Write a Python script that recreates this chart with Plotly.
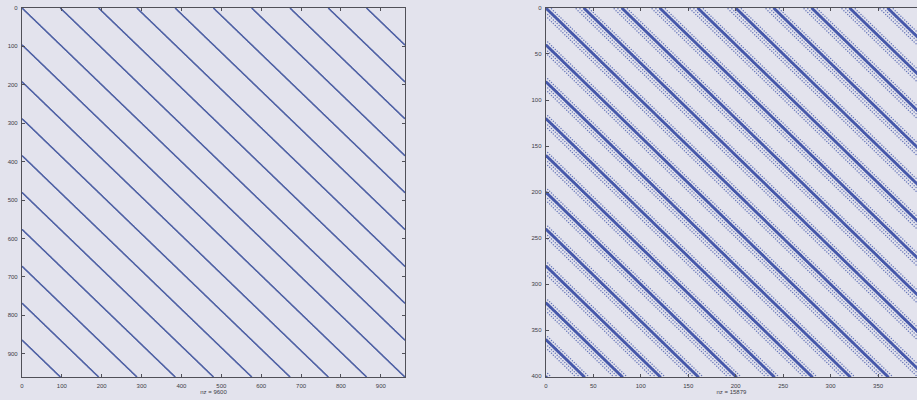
import numpy as np
import plotly.graph_objects as go

# ---- data: sparsity structure of the two matrices ----
N_left = 960
left_offsets = [0, 96, 192, 288, 384, 480, 576, 672, 768, 864]   # circulant diagonal offsets
N_right = 400
right_band_offsets = [0, 40, 80, 120, 160, 200, 240, 280, 320, 360]
right_full_diags = [-1, 0, 1]        # solid (dense) diagonals inside each band
right_dotted_diags = [-9, -5, 5]     # dotted diagonals inside each band
right_dot_step = 2
left_ticks = [0, 100, 200, 300, 400, 500, 600, 700, 800, 900]
right_ticks = [0, 50, 100, 150, 200, 250, 300, 350]
left_label = "nz = 9600"
right_label = "nz = 15879"


def circ(n, offs, step=1):
    r_all, c_all = [], []
    rows = np.arange(n)
    for o in offs:
        r = rows[::step]
        c = (r + o) % n
        r_all.append(r)
        c_all.append(c)
    return np.concatenate(r_all) + 1, np.concatenate(c_all) + 1


lr, lc = circ(N_left, left_offsets)
full = [b + d for b in right_band_offsets for d in right_full_diags]
dotted = [b + d for b in right_band_offsets for d in right_dotted_diags]
rr1, rc1 = circ(N_right, full)
rr2, rc2 = circ(N_right, dotted, right_dot_step)

BG = "rgb(227,227,237)"
BLUE = "rgb(80,98,165)"
AX = "rgb(80,80,88)"

fig = go.Figure()
fig.add_trace(go.Scatter(x=lc, y=lr, mode="markers", xaxis="x", yaxis="y",
                         marker=dict(size=1.5, color=BLUE, line=dict(width=0)),
                         hoverinfo="skip", showlegend=False))
fig.add_trace(go.Scatter(x=rc1, y=rr1, mode="markers", xaxis="x2", yaxis="y2",
                         marker=dict(size=1.8, color="rgb(70,88,170)", line=dict(width=0)),
                         hoverinfo="skip", showlegend=False))
fig.add_trace(go.Scatter(x=rc2, y=rr2, mode="markers", xaxis="x2", yaxis="y2",
                         marker=dict(size=1.5, color="rgb(105,120,185)", line=dict(width=0)),
                         hoverinfo="skip", showlegend=False))

tickfont = dict(family="Liberation Sans, Arial, sans-serif", size=6, color="rgb(60,60,70)")
common = dict(showgrid=False, zeroline=False, ticks="inside", ticklen=3,
              tickcolor=AX, showline=True, linecolor=AX, linewidth=1.2,
              tickfont=tickfont, ticklabelstandoff=2)

W, H = 917, 400
fig.update_layout(
    width=W, height=H, margin=dict(l=0, r=0, t=0, b=0),
    paper_bgcolor=BG, plot_bgcolor=BG,
    xaxis=dict(domain=[20 / W, 404 / W], range=[0, N_left + 1], anchor="y",
               tickvals=left_ticks, mirror="ticks",
               title=dict(text=left_label, font=tickfont, standoff=1), **common),
    yaxis=dict(domain=[1 - 379 / H, 1 - 5 / H], range=[N_left + 1, 0], anchor="x",
               tickvals=left_ticks, mirror="ticks", **common),
    xaxis2=dict(domain=[545 / W, 1.0], range=[0, 391], anchor="y2",
                tickvals=right_ticks, mirror=False,
                title=dict(text=right_label, font=tickfont, standoff=1), **common),
    yaxis2=dict(domain=[1 - 379 / H, 1 - 5 / H], range=[N_right + 1, 0], anchor="x2",
                tickvals=right_ticks + [400], mirror=False, **common),
)
# top border with ticks for the right panel
fig.update_layout(xaxis3=dict(domain=[545 / W, 1.0], range=[0, 391], overlaying="x2",
                              side="top", anchor="y2", tickvals=right_ticks,
                              showticklabels=False, **common))
fig.add_trace(go.Scatter(x=[None], y=[None], xaxis="x3", yaxis="y2", showlegend=False))

fig.write_html("out.html")
